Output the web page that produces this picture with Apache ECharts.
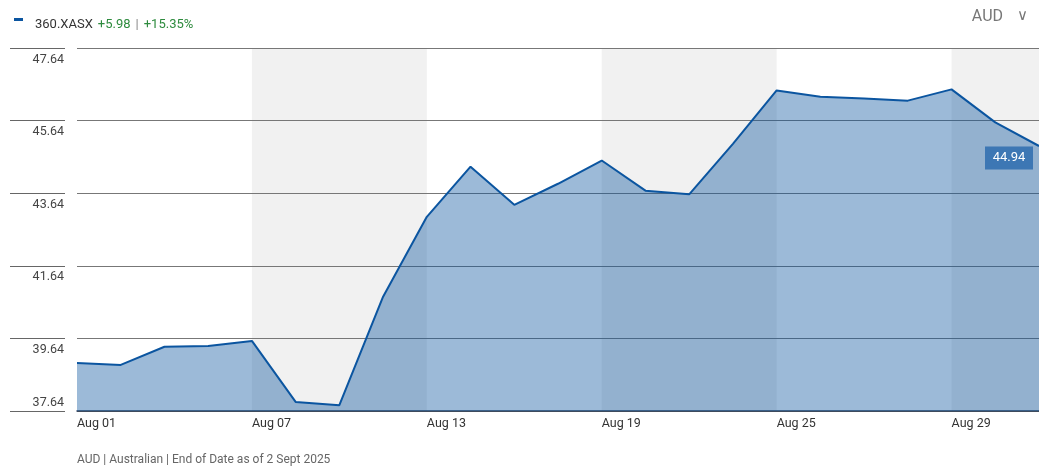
<!DOCTYPE html>
<html><head><meta charset="utf-8">
<script src="https://cdn.jsdelivr.net/npm/echarts@6/dist/echarts.min.js"></script>
<style>html,body{margin:0;padding:0;background:#fff}#c{width:1039px;height:472px}</style>
</head><body><div id="c"></div>
<script>
const categories = ['Aug 01','Aug 04','Aug 05','Aug 06','Aug 07','Aug 08','Aug 11','Aug 12','Aug 13','Aug 14','Aug 15','Aug 18','Aug 19','Aug 20','Aug 21','Aug 22','Aug 25','Aug 26','Aug 27','Aug 28','Aug 29','Sep 01','Sep 02'];
const prices = [38.96,38.91,39.41,39.43,39.57,37.89,37.80,40.79,42.99,44.37,43.32,43.90,44.54,43.71,43.61,45.00,46.47,46.30,46.25,46.19,46.50,45.59,44.94];
const yTicks = [37.64,39.64,41.64,43.64,45.64,47.64];
const shadedBands = [['Aug 07','Aug 13'],['Aug 19','Aug 25'],['Aug 29','Sep 02']];
const ticker = '360.XASX';
const change = '+5.98';
const changePct = '+15.35%';
const currency = 'AUD';
const footer = 'AUD | Australian | End of Date as of 2 Sept 2025';

const FONT = "Roboto,'Liberation Sans Narrow',sans-serif";
const yMin = yTicks[0], yMax = yTicks[yTicks.length-1];
const lastIdx = prices.length - 1;

const chart = echarts.init(document.getElementById('c'), null, {renderer:'canvas'});
chart.setOption({
  animation:false,
  backgroundColor:'#fff',
  title:{
    left:30, top:11,
    text:'{t|'+ticker+'} {g|'+change+'} {s||} {g|'+changePct+'}',
    textStyle:{fontWeight:'normal',rich:{
      t:{fontFamily:FONT,fontSize:13,color:'#333',fontWeight:'normal'},
      g:{fontFamily:FONT,fontSize:13,color:'#2e8b3e',fontWeight:'normal'},
      s:{fontFamily:FONT,fontSize:13,color:'#888',fontWeight:'normal'}
    }}
  },
  graphic:[
    {type:'rect',left:14,top:18,shape:{width:9,height:3},style:{fill:'#0b55a0'}},
    {type:'text',right:36,top:9,style:{text:currency,font:'16px '+FONT,fill:'#777'}},
    {type:'text',right:11,top:9,style:{text:'\u2228',font:'15px '+FONT,fill:'#777'}},
    {type:'text',left:77,top:454,style:{text:footer,font:'12px '+FONT,fill:'#666'}}
  ],
  grid:{left:77,right:0,top:48,bottom:61,containLabel:false},
  xAxis:{
    type:'category', data:categories, boundaryGap:false, z:2,
    axisLine:{show:true,lineStyle:{color:'#2d3e55',width:1.5}},
    axisTick:{show:false},
    axisLabel:{interval:3,align:'left',margin:6,fontFamily:FONT,fontSize:12.5,color:'#333'},
    splitLine:{show:false},
    splitArea:{show:false}
  },
  yAxis:[
    {
      type:'value', min:yMin, max:yMax, interval:2, position:'left', offset:12, z:2,
      axisLine:{show:false},
      axisTick:{show:true,length:55,lineStyle:{color:'#666'}},
      axisLabel:{margin:1,verticalAlign:'top',padding:[5,0,0,0],fontFamily:FONT,fontSize:12.5,color:'#444',
        formatter:v=> Math.abs(v-yMin)<1e-6 ? '' : v.toFixed(2)},
      splitLine:{show:true,lineStyle:{color:'#777',width:1}}
    },
    {
      type:'value', min:yMin, max:yMax, interval:2, position:'left', offset:12, z:2,
      axisLine:{show:false}, axisTick:{show:false}, splitLine:{show:false},
      axisLabel:{margin:1,verticalAlign:'bottom',padding:[0,0,2,0],fontFamily:FONT,fontSize:12.5,color:'#444',
        formatter:v=> Math.abs(v-yMin)<1e-6 ? v.toFixed(2) : ''}
    }
  ],
  series:[
    {
      type:'line', data:[], z:0, silent:true,
      markArea:{silent:true,z:0,zlevel:0,itemStyle:{color:'#f1f1f1'},
        data:shadedBands.map(b=>[{xAxis:b[0]},{xAxis:b[1]}])}
    },
    {
      type:'line', data:prices, yAxisIndex:0,
      showSymbol:false, symbol:'none',
      lineStyle:{color:'#0b55a0',width:2},
      areaStyle:{color:'rgba(8,82,158,0.4)',opacity:1,origin:'start'},
      z:3,
      markPoint:{
        silent:true, z:5,
        data:[{coord:[categories[lastIdx],prices[lastIdx]],value:prices[lastIdx].toFixed(2)}],
        symbol:'rect', symbolSize:[48,23], symbolOffset:[-30,12],
        itemStyle:{color:'#3d77b4'},
        label:{show:true,color:'#fff',fontFamily:FONT,fontSize:13,formatter:p=>p.value}
      }
    }
  ]
});
</script></body></html>
